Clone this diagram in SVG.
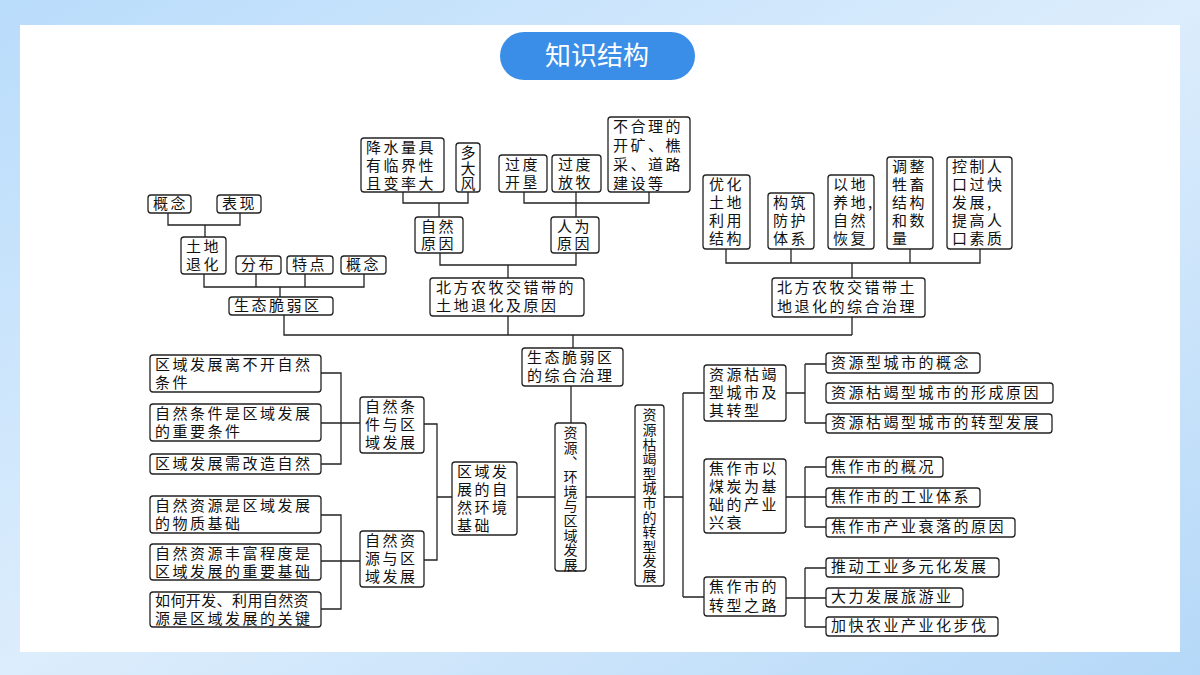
<svg xmlns="http://www.w3.org/2000/svg" width="1200" height="675" viewBox="0 0 1200 675">
<defs>
<linearGradient id="bg" x1="0" y1="0" x2="1" y2="1">
<stop offset="0" stop-color="#b9dcfb"/><stop offset="0.5" stop-color="#dcedfc"/><stop offset="1" stop-color="#b5d8f8"/>
</linearGradient>
<style>
.b{fill:#fff;stroke:#222;stroke-width:1.3}
.t{font-family:"Noto Sans CJK SC","Noto Sans",sans-serif;font-size:15px;fill:#111;letter-spacing:2.5px}
.v{font-family:"Noto Sans CJK SC","Noto Sans",sans-serif;font-size:14px;fill:#111;writing-mode:vertical-rl;letter-spacing:0.6px}
.c{fill:none;stroke:#222;stroke-width:1.3}
</style>
</defs>
<rect width="1200" height="675" fill="url(#bg)"/>
<rect x="20" y="25" width="1160" height="627" fill="#fff"/>
<g id="title"><rect x="500" y="32" width="195" height="48" rx="24" fill="#3a8ee8"/>
<text x="597" y="65" text-anchor="middle" font-family="'Noto Sans CJK SC',sans-serif" font-size="26" fill="#fff">知识结构</text></g>

<g id="connectors" class="c">
<path d="M168 213V225H240V213M205 225V237"/>
<path d="M204 274V287H364V274M256 287V274M305 287V274M280 287V297"/>
<path d="M284 315V335H852M508 316V335M573 335V348"/>
<path d="M403 192V203H468V192M439 203V217"/>
<path d="M524 192V203H649V192M576 192V217"/>
<path d="M440 253V265H576V253M508 265V278"/>
<path d="M726 249V263H980V249M791 263V249M910 263V249M852 263V278M852 317V335"/>
<path d="M571 386V423"/>
<path d="M321 373H341V464H321M321 423H360"/>
<path d="M321 515H341V609H321M321 561H360"/>
<path d="M424 424H437V560H424M437 497H452"/>
<path d="M517 497H555M586 497H635M664 497H683M683 393V597M683 393H704M683 597H704"/>
<path d="M786 393H805M805 364V423M805 364H826M805 423H826"/>
<path d="M786 497H826M805 467V527M805 467H826M805 527H826"/>
<path d="M786 598H826M805 568V627M805 568H826M805 627H826"/>
</g>

<g id="n1"><rect class="b" x="148" y="195" width="43" height="18" rx="3"/><text class="t" x="153" y="209">概念</text></g>
<g id="n2"><rect class="b" x="217" y="195" width="44" height="18" rx="3"/><text class="t" x="222" y="209">表现</text></g>
<g id="n3"><rect class="b" x="181" y="237" width="45" height="37" rx="3"/><text class="t" x="186" y="252">土地</text><text class="t" x="186" y="270">退化</text></g>
<g id="n4"><rect class="b" x="236" y="256" width="45" height="18" rx="3"/><text class="t" x="241" y="270">分布</text></g>
<g id="n5"><rect class="b" x="287" y="256" width="46" height="18" rx="3"/><text class="t" x="292" y="270">特点</text></g>
<g id="n6"><rect class="b" x="341" y="256" width="45" height="18" rx="3"/><text class="t" x="346" y="270">概念</text></g>
<g id="n7"><rect class="b" x="229" y="297" width="104" height="18" rx="3"/><text class="t" x="234" y="311">生态脆弱区</text></g>
<g id="n8"><rect class="b" x="361" y="138" width="83" height="54" rx="3"/><text class="t" x="366" y="153">降水量具</text><text class="t" x="366" y="171">有临界性</text><text class="t" x="366" y="189">且变率大</text></g>
<g id="n9"><rect class="b" x="456" y="143" width="24" height="49" rx="3"/><text class="v" x="468" y="145" style="font-size:15px">多大风</text></g>
<g id="n10"><rect class="b" x="415" y="217" width="48" height="36" rx="3"/><text class="t" x="421" y="232">自然</text><text class="t" x="421" y="249">原因</text></g>
<g id="n11"><rect class="b" x="499" y="155" width="48" height="37" rx="3"/><text class="t" x="505" y="170">过度</text><text class="t" x="505" y="188">开垦</text></g>
<g id="n12"><rect class="b" x="552" y="155" width="49" height="37" rx="3"/><text class="t" x="558" y="170">过度</text><text class="t" x="558" y="188">放牧</text></g>
<g id="n13"><rect class="b" x="608" y="117" width="82" height="75" rx="3"/><text class="t" x="613" y="132">不合理的</text><text class="t" x="613" y="151">开矿、樵</text><text class="t" x="613" y="170">采、道路</text><text class="t" x="613" y="189">建设等</text></g>
<g id="n14"><rect class="b" x="551" y="217" width="48" height="36" rx="3"/><text class="t" x="557" y="232">人为</text><text class="t" x="557" y="249">原因</text></g>
<g id="n15"><rect class="b" x="430" y="278" width="154" height="38" rx="3"/><text class="t" x="436" y="293">北方农牧交错带的</text><text class="t" x="436" y="311">土地退化及原因</text></g>
<g id="n16"><rect class="b" x="703" y="175" width="47" height="74" rx="3"/><text class="t" x="709" y="190">优化</text><text class="t" x="709" y="208">土地</text><text class="t" x="709" y="226">利用</text><text class="t" x="709" y="244">结构</text></g>
<g id="n17"><rect class="b" x="768" y="193" width="46" height="56" rx="3"/><text class="t" x="773" y="208">构筑</text><text class="t" x="773" y="226">防护</text><text class="t" x="773" y="244">体系</text></g>
<g id="n18"><rect class="b" x="828" y="175" width="46" height="74" rx="3"/><text class="t" x="833" y="190">以地</text><text class="t" x="833" y="208">养地,</text><text class="t" x="833" y="226">自然</text><text class="t" x="833" y="244">恢复</text></g>
<g id="n19"><rect class="b" x="887" y="157" width="46" height="92" rx="3"/><text class="t" x="892" y="172">调整</text><text class="t" x="892" y="190">牲畜</text><text class="t" x="892" y="208">结构</text><text class="t" x="892" y="226">和数</text><text class="t" x="892" y="244">量</text></g>
<g id="n20"><rect class="b" x="947" y="157" width="65" height="92" rx="3"/><text class="t" x="952" y="172">控制人</text><text class="t" x="952" y="190">口过快</text><text class="t" x="952" y="208">发展,</text><text class="t" x="952" y="226">提高人</text><text class="t" x="952" y="244">口素质</text></g>
<g id="n21"><rect class="b" x="772" y="278" width="153" height="39" rx="3"/><text class="t" x="777" y="293">北方农牧交错带土</text><text class="t" x="777" y="312">地退化的综合治理</text></g>
<g id="n22"><rect class="b" x="522" y="348" width="101" height="38" rx="3"/><text class="t" x="527" y="363">生态脆弱区</text><text class="t" x="527" y="381">的综合治理</text></g>

<g id="n23"><rect class="b" x="150" y="355" width="171" height="37" rx="3"/><text class="t" x="155" y="370">区域发展离不开自然</text><text class="t" x="155" y="388">条件</text></g>
<g id="n24"><rect class="b" x="150" y="404" width="171" height="37" rx="3"/><text class="t" x="155" y="419">自然条件是区域发展</text><text class="t" x="155" y="437">的重要条件</text></g>
<g id="n25"><rect class="b" x="150" y="454" width="171" height="20" rx="3"/><text class="t" x="155" y="469">区域发展需改造自然</text></g>
<g id="n26"><rect class="b" x="150" y="496" width="171" height="37" rx="3"/><text class="t" x="155" y="511">自然资源是区域发展</text><text class="t" x="155" y="529">的物质基础</text></g>
<g id="n27"><rect class="b" x="150" y="544" width="171" height="36" rx="3"/><text class="t" x="155" y="559">自然资源丰富程度是</text><text class="t" x="155" y="577">区域发展的重要基础</text></g>
<g id="n28"><rect class="b" x="150" y="592" width="171" height="35" rx="3"/><text class="t" x="155" y="606" style="letter-spacing:0.4px">如何开发、利用自然资</text><text class="t" x="155" y="624">源是区域发展的关键</text></g>
<g id="n29"><rect class="b" x="360" y="397" width="64" height="56" rx="3"/><text class="t" x="365" y="412">自然条</text><text class="t" x="365" y="430">件与区</text><text class="t" x="365" y="448">域发展</text></g>
<g id="n30"><rect class="b" x="360" y="531" width="64" height="56" rx="3"/><text class="t" x="365" y="546">自然资</text><text class="t" x="365" y="564">源与区</text><text class="t" x="365" y="582">域发展</text></g>
<g id="n31"><rect class="b" x="452" y="462" width="65" height="73" rx="3"/><text class="t" x="457" y="477">区域发</text><text class="t" x="457" y="495">展的自</text><text class="t" x="457" y="513">然环境</text><text class="t" x="457" y="531">基础</text></g>
<g id="n32"><rect class="b" x="555" y="423" width="31" height="148" rx="3"/><text class="v" x="570.5" y="426">资源、环境与区域发展</text></g>
<g id="n33"><rect class="b" x="635" y="405" width="29" height="181" rx="3"/><text class="v" x="649.5" y="408">资源枯竭型城市的转型发展</text></g>
<g id="n34"><rect class="b" x="704" y="365" width="82" height="56" rx="3"/><text class="t" x="709" y="380">资源枯竭</text><text class="t" x="709" y="398">型城市及</text><text class="t" x="709" y="416">其转型</text></g>
<g id="n35"><rect class="b" x="704" y="459" width="82" height="74" rx="3"/><text class="t" x="709" y="474">焦作市以</text><text class="t" x="709" y="492">煤炭为基</text><text class="t" x="709" y="510">础的产业</text><text class="t" x="709" y="528">兴衰</text></g>
<g id="n36"><rect class="b" x="704" y="577" width="82" height="39" rx="3"/><text class="t" x="709" y="592">焦作市的</text><text class="t" x="709" y="611">转型之路</text></g>
<g id="n37"><rect class="b" x="826" y="353" width="154" height="20" rx="3"/><text class="t" x="831" y="368">资源型城市的概念</text></g>
<g id="n38"><rect class="b" x="826" y="383" width="227" height="20" rx="3"/><text class="t" x="831" y="398">资源枯竭型城市的形成原因</text></g>
<g id="n39"><rect class="b" x="826" y="414" width="226" height="19" rx="3"/><text class="t" x="831" y="428">资源枯竭型城市的转型发展</text></g>
<g id="n40"><rect class="b" x="826" y="457" width="117" height="20" rx="3"/><text class="t" x="831" y="472">焦作市的概况</text></g>
<g id="n41"><rect class="b" x="826" y="488" width="154" height="19" rx="3"/><text class="t" x="831" y="502">焦作市的工业体系</text></g>
<g id="n42"><rect class="b" x="826" y="518" width="189" height="19" rx="3"/><text class="t" x="831" y="532">焦作市产业衰落的原因</text></g>
<g id="n43"><rect class="b" x="826" y="558" width="173" height="19" rx="3"/><text class="t" x="831" y="572">推动工业多元化发展</text></g>
<g id="n44"><rect class="b" x="826" y="588" width="137" height="19" rx="3"/><text class="t" x="831" y="602">大力发展旅游业</text></g>
<g id="n45"><rect class="b" x="826" y="617" width="172" height="19" rx="3"/><text class="t" x="831" y="631">加快农业产业化步伐</text></g>
</svg>
